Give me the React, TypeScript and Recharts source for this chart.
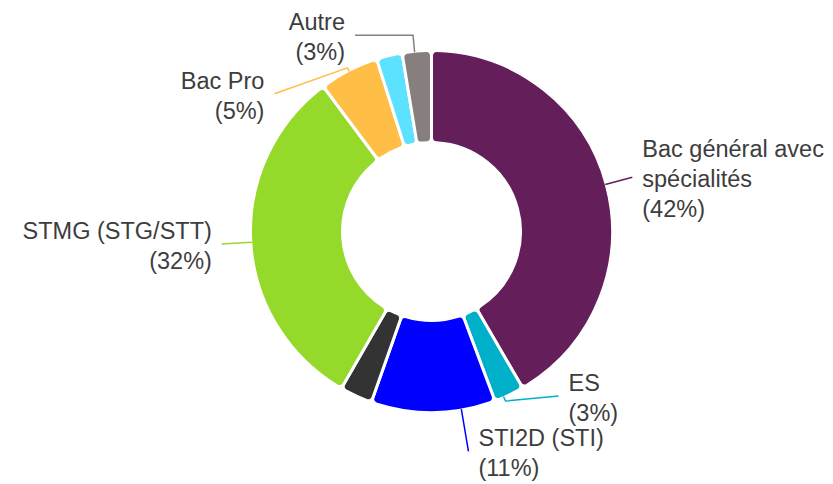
import { PieChart, Pie, Cell } from 'recharts';

const categories = ['Bac général avec spécialités', 'ES', 'STI2D (STI)', 'STL', 'STMG (STG/STT)', 'Bac Pro', 'L', 'Autre'];
const values = [41.6, 2.7, 11.1, 2.9, 31.5, 5.3, 2.3, 2.6];
const colors = ['#641e5a', '#00afc8', '#0000ff', '#333333', '#95d92b', '#ffbe46', '#5ce1ff', '#877e7e'];
// text shown next to each slice (null = no label)
const labelLines = [['Bac général avec', 'spécialités'], ['ES'], ['STI2D (STI)'], null, ['STMG (STG/STT)'], ['Bac Pro'], null, ['Autre']];

// leader line layout: angle shift from mid angle, radial leg, then a second leg (dx, dy)
const leaders = [
    { shift: 0, radial: 28, dx: 0, dy: 0, side: 1 },
    { shift: -1.8, radial: 5, dx: 53, dy: -5, side: 1 },
    { shift: 9, radial: 43, dx: 0, dy: 0, side: 1 },
    null,
    { shift: 0, radial: 30, dx: 0, dy: 0, side: -1 },
    { shift: 0, radial: 4, dx: -73, dy: 26, side: -1 },
    null,
    { shift: 0.7, radial: 17, dx: -58, dy: 0, side: -1 },
];

const data = categories.map((name, i) => ({ name, value: values[i] }));

const RAD = Math.PI / 180;

function renderLabel(props: any) {
    const { cx, cy, midAngle, outerRadius, percent, index } = props;
    const lay = leaders[index];
    const lines = labelLines[index];
    if (!lay || !lines) return <g />;
    const a = (midAngle + lay.shift) * RAD;
    const r0 = outerRadius - 1;
    const x0 = cx + r0 * Math.cos(a);
    const y0 = cy - r0 * Math.sin(a);
    const x1 = cx + (r0 + lay.radial) * Math.cos(a);
    const y1 = cy - (r0 + lay.radial) * Math.sin(a);
    const x2 = x1 + lay.dx;
    const y2 = y1 + lay.dy;
    const all = [...lines, `(${Math.round(percent * 100)}%)`];
    const lh = 30;
    const tx = x2 + lay.side * 10;
    const top = y2 + 2 - ((all.length - 1) * lh) / 2;
    return (
        <g>
            <polyline points={`${x0},${y0} ${x1},${y1} ${x2},${y2}`} fill="none" stroke={colors[index]} strokeWidth={1.5} />
            <text x={tx} y={top} textAnchor={lay.side > 0 ? 'start' : 'end'} fill="#3d3d3d" fontSize={23.5} fontFamily="'Liberation Sans', Arial, sans-serif">
                {all.map((t, i) => (
                    <tspan key={i} x={tx} y={top + i * lh} dominantBaseline="central">{t}</tspan>
                ))}
            </text>
        </g>
    );
}

export default function App() {
    return (
        <div style={{ position: 'absolute', left: 0, top: 0, width: 833, height: 484, background: '#fff' }}>
            <PieChart width={833} height={484} margin={{ top: 0, right: 0, bottom: 0, left: 0 }}>
                <Pie
                    data={data}
                    dataKey="value"
                    nameKey="name"
                    cx={431.5}
                    cy={231.5}
                    innerRadius={89}
                    outerRadius={181}
                    startAngle={90}
                    endAngle={-270}
                    cornerRadius={5}
                    stroke="#fff"
                    strokeWidth={3}
                    label={renderLabel}
                    labelLine={false}
                    isAnimationActive={false}
                >
                    {data.map((d, i) => <Cell key={d.name} fill={colors[i]} />)}
                </Pie>
            </PieChart>
        </div>
    );
}
